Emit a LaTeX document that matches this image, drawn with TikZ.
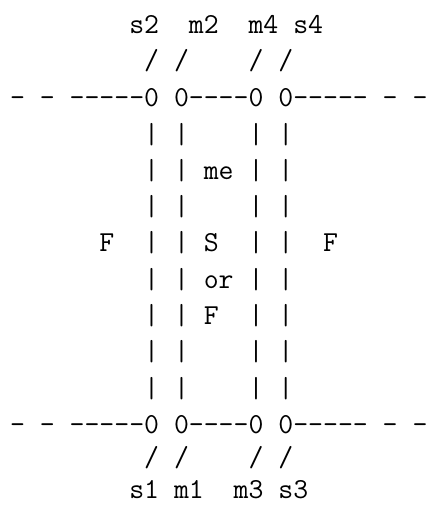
\documentclass[tikz,border=0pt]{standalone}
\usepackage{tikz}

\begin{document}
\begin{tikzpicture}[x=1pt,y=-1pt,
    row/.style={anchor=base west,inner sep=0pt,
      font=\ttfamily\fontsize{28.95}{34}\selectfont}]
  \useasboundingbox (0,0) rectangle (433,505);
  % labels and rails, one node per printed line
  \node[row] (toplabels) at (9.8,33.3)  {~~~~~~~~s2~~m2~~m4~s4};
  \node[row] (topslash)  at (9.8,70)    {~~~~~~~~~/~/~~~~/~/};
  \node[row] (toprail)   at (9.8,106.7) {-~-~-----0~0----0~0-----~-~-};
  \node[row] (wall1)     at (9.8,143)   {~~~~~~~~~|~|~~~~|~|};
  \node[row] (wall2)     at (9.8,179.3) {~~~~~~~~~|~|~me~|~|};
  \node[row] (wall3)     at (9.8,215.6) {~~~~~~~~~|~|~~~~|~|};
  \node[row] (wall4)     at (9.8,251.9) {~~~~~~F~~|~|~S~~|~|~~F};
  \node[row] (wall5)     at (9.8,288.2) {~~~~~~~~~|~|~or~|~|};
  \node[row] (wall6)     at (9.8,324.5) {~~~~~~~~~|~|~F~~|~|};
  \node[row] (wall7)     at (9.8,360.8) {~~~~~~~~~|~|~~~~|~|};
  \node[row] (wall8)     at (9.8,397.1) {~~~~~~~~~|~|~~~~|~|};
  \node[row] (botrail)   at (9.8,433.4) {-~-~-----0~0----0~0-----~-~-};
  \node[row] (botslash)  at (9.8,466)   {~~~~~~~~~/~/~~~~/~/};
  \node[row] (botlabels) at (9.8,498.3) {~~~~~~~~s1~m1~~m3~s3};
\end{tikzpicture}
\end{document}
